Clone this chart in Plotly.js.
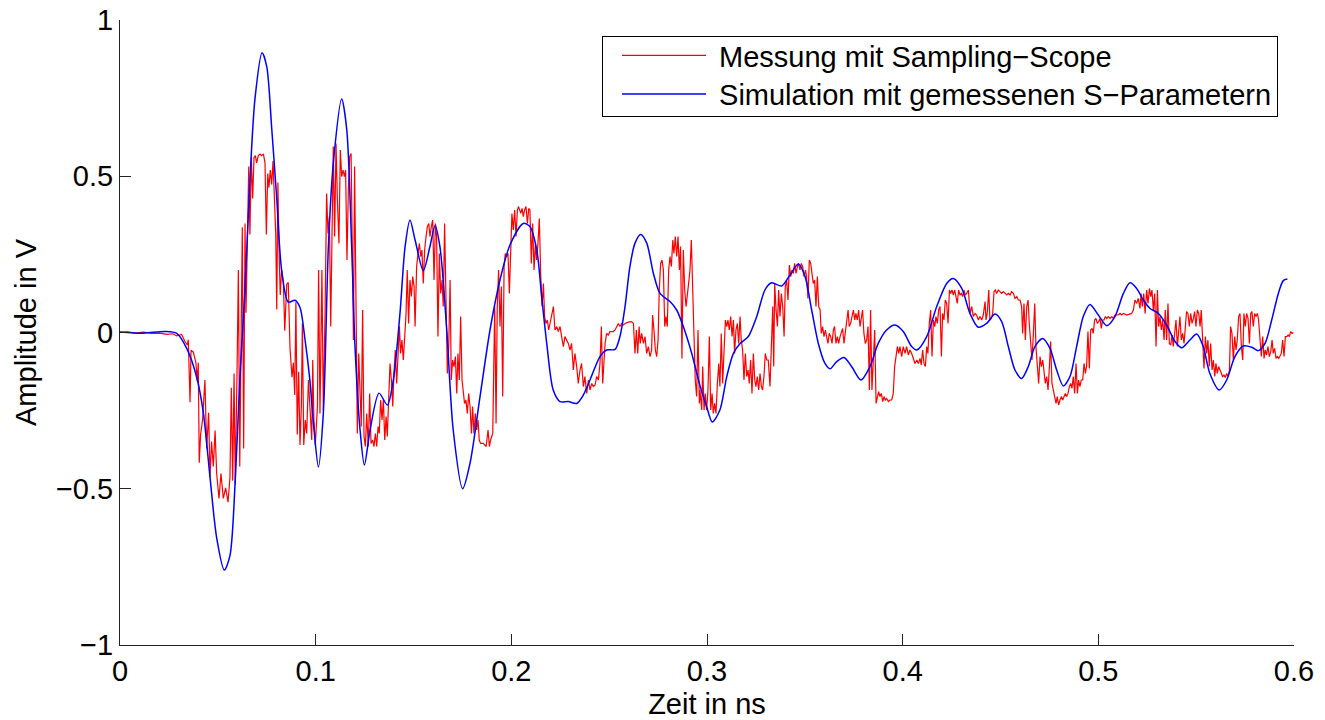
<!DOCTYPE html>
<html>
<head>
<meta charset="utf-8">
<script src="https://cdn.plot.ly/plotly-3.0.1.min.js"></script>
<style>
html,body{margin:0;padding:0;background:#fff;}
#chart{width:1325px;height:720px;}
</style>
</head>
<body>
<div id="chart"></div>
<script>
// Time axis in ns, amplitude in V
const xTicks = [0, 0.1, 0.2, 0.3, 0.4, 0.5, 0.6];
const yTicks = [-1, -0.5, 0, 0.5, 1];
const seriesNames = ['Messung mit Sampling\u2212Scope', 'Simulation mit gemessenen S\u2212Parametern'];

// Measurement (sampling scope) [t, V]
const messung = [
[0,0],[0.004,0.002],[0.008,-0.002],[0.012,0.001],[0.016,-0.003],[0.02,-0.002],[0.024,-0.006],[0.027,-0.004],[0.029,-0.011],[0.0315,-0.006],
[0.0332,-0.029],[0.0344,-0.04],[0.0349,-0.023],[0.0358,-0.223],[0.0363,-0.057],[0.0375,-0.063],[0.0388,-0.097],[0.0395,-0.154],[0.04,-0.097],[0.0405,-0.417],
[0.0412,-0.326],[0.0422,-0.28],[0.0434,-0.152],[0.0443,-0.371],[0.0453,-0.257],[0.046,-0.463],[0.0468,-0.349],[0.0477,-0.429],[0.0486,-0.314],[0.0494,-0.451],
[0.0506,-0.531],[0.0516,-0.451],[0.0528,-0.531],[0.054,-0.497],[0.0552,-0.543],[0.0562,-0.463],[0.0569,-0.177],[0.0576,-0.474],[0.0583,-0.131],[0.0589,-0.486],
[0.0598,-0.131],[0.0605,0.2],[0.0612,-0.429],[0.0618,0.063],[0.0625,0.337],[0.0632,-0.371],[0.0639,0.349],[0.0644,0.063],[0.0651,0.349],[0.0658,0.531],
[0.0664,0.314],[0.0671,0.56],[0.0678,0.429],[0.0685,0.56],[0.0692,0.566],[0.0698,0.543],[0.0707,0.566],[0.0716,0.571],[0.0724,0.566],[0.0733,0.571],
[0.0741,0.543],[0.0748,0.314],[0.0755,0.509],[0.0761,0.463],[0.0768,0.52],[0.0775,0.474],[0.0782,0.549],[0.0789,0.406],[0.0796,0.314],[0.0801,0.074],
[0.0807,0.48],[0.0813,0.257],[0.0819,0.12],[0.0826,0.2],[0.0835,0.16],[0.0842,0.006],[0.0852,0.154],[0.086,0.16],[0.0869,-0.051],[0.0879,-0.143],
[0.0886,-0.097],[0.0893,-0.2],[0.0899,0.097],[0.0906,-0.326],[0.0913,-0.126],[0.092,-0.36],[0.0927,-0.234],[0.0932,0.029],[0.0939,-0.36],[0.0947,-0.28],
[0.0954,-0.323],[0.0963,-0.152],[0.0971,-0.259],[0.098,-0.344],[0.0985,-0.088],[0.0991,-0.28],[0.0998,-0.36],[0.1009,-0.237],[0.1015,0.2],[0.1022,-0.259],
[0.1032,0.2],[0.1039,-0.248],[0.1048,0.061],[0.1056,0.445],[0.1063,0.317],[0.107,0.371],[0.1077,0.019],[0.1083,0.381],[0.109,0.595],[0.1097,0.307],
[0.1104,0.605],[0.1111,0.424],[0.1119,0.285],[0.1126,0.584],[0.1133,0.499],[0.114,0.52],[0.1147,0.499],[0.1153,0.52],[0.116,0.232],[0.1167,0.456],
[0.1174,0.563],[0.1181,0.573],[0.1187,0.275],[0.1193,-0.024],[0.1199,0.531],[0.1206,0.168],[0.1213,-0.323],[0.122,-0.067],[0.1227,-0.205],[0.1233,-0.301],
[0.124,0.072],[0.1247,-0.333],[0.1254,-0.365],[0.1261,-0.259],[0.1269,-0.365],[0.1276,-0.195],[0.1283,-0.355],[0.1291,-0.344],[0.1298,-0.365],[0.1305,-0.323],
[0.1312,-0.365],[0.1319,-0.301],[0.1325,-0.323],[0.1332,-0.216],[0.1339,-0.28],[0.1346,-0.216],[0.1353,-0.344],[0.136,-0.269],[0.1366,-0.333],[0.1373,-0.173],
[0.138,-0.099],[0.1387,-0.152],[0.1394,-0.237],[0.14,-0.131],[0.1407,-0.056],[0.1414,-0.163],[0.1421,-0.077],[0.1428,0.019],[0.1434,-0.067],[0.1441,-0.024],
[0.1448,-0.088],[0.1455,-0.003],[0.1462,0.061],[0.1468,0.2],[0.1475,0.029],[0.1482,0.168],[0.1489,0.115],[0.1496,0.179],[0.1503,0.147],[0.1508,0.019],
[0.1516,0.211],[0.1523,0.253],[0.153,0.285],[0.1537,0.243],[0.1543,0.264],[0.155,0.157],[0.1557,0.264],[0.1564,0.307],[0.1571,0.339],[0.1578,0.349],
[0.1584,0.307],[0.1591,0.339],[0.1598,0.36],[0.1605,0.168],[0.1612,0.349],[0.1618,0.307],[0.1625,-0.013],[0.1632,0.253],[0.1639,0.125],[0.1646,0.168],
[0.1652,0.083],[0.1659,0.349],[0.1666,0.125],[0.1673,-0.131],[0.168,-0.045],[0.1687,0.168],[0.1693,-0.152],[0.17,-0.088],[0.1707,-0.109],[0.1714,-0.077],
[0.1721,-0.195],[0.1727,-0.067],[0.1734,-0.152],[0.1741,0.051],[0.1748,-0.152],[0.1755,-0.205],[0.1761,-0.227],[0.1768,-0.216],[0.1775,-0.259],[0.1782,-0.195],
[0.1789,-0.237],[0.1796,-0.323],[0.1802,-0.237],[0.1809,-0.323],[0.1816,-0.259],[0.1823,-0.312],[0.183,-0.28],[0.1836,-0.344],[0.1843,-0.355],[0.1857,-0.355],
[0.1871,-0.365],[0.1881,-0.312],[0.1888,-0.365],[0.1894,-0.344],[0.1905,-0.323],[0.1915,0.083],[0.1922,-0.291],[0.1928,0.083],[0.1935,0.2],[0.1942,0.019],
[0.1949,0.147],[0.1956,-0.205],[0.1963,0.211],[0.1969,0.253],[0.1976,0.243],[0.1983,0.253],[0.199,0.125],[0.1997,0.264],[0.2003,0.381],[0.201,0.328],
[0.2017,0.392],[0.2024,0.307],[0.2031,0.392],[0.2037,0.403],[0.2048,0.381],[0.2055,0.397],[0.2061,0.371],[0.2068,0.392],[0.2075,0.403],[0.2082,0.349],
[0.2089,0.397],[0.2095,0.392],[0.2102,0.221],[0.2109,0.349],[0.2116,0.2],[0.2123,0.285],[0.2129,0.232],[0.2136,0.285],[0.2143,0.365],[0.215,0.189],
[0.2157,0.083],[0.2164,0.157],[0.217,0.051],[0.2177,0.029],[0.2184,0.04],[0.2191,0.008],[0.2198,0.029],[0.2206,0.051],[0.2215,0.083],[0.2223,0.008],
[0.2232,0.019],[0.224,0.003],[0.2249,0.019],[0.2257,-0.013],[0.2266,-0.045],[0.2274,-0.013],[0.2283,-0.024],[0.2291,-0.035],[0.23,-0.056],[0.2308,-0.035],
[0.2317,-0.12],[0.2325,-0.067],[0.2334,-0.109],[0.2342,-0.163],[0.2351,-0.12],[0.2359,-0.099],[0.2368,-0.173],[0.2376,-0.141],[0.2385,-0.195],[0.2394,-0.152],
[0.2402,-0.184],[0.2411,-0.163],[0.2419,-0.173],[0.2428,-0.168],[0.2436,-0.141],[0.2445,-0.152],[0.2453,-0.099],[0.246,0.019],[0.2467,-0.163],[0.2474,-0.056],
[0.2479,-0.035],[0.2487,-0.003],[0.2496,-0.008],[0.2504,0.003],[0.2521,0.003],[0.253,0.008],[0.2538,0.019],[0.2547,0.029],[0.2555,0.019],[0.2564,0.029],
[0.2572,0.024],[0.2581,0.029],[0.2598,0.033],[0.2615,0.035],[0.2624,0.029],[0.2632,-0.067],[0.2639,0.008],[0.2646,-0.067],[0.2653,0.019],[0.2659,-0.035],
[0.2666,-0.003],[0.2675,-0.035],[0.2683,-0.013],[0.2692,-0.067],[0.27,-0.045],[0.2709,-0.077],[0.2717,-0.056],[0.2722,0.056],[0.2729,0.008],[0.2736,-0.056],
[0.2743,-0.077],[0.275,-0.024],[0.2756,0.136],[0.2763,0.221],[0.277,0.232],[0.2777,0.2],[0.2784,0.019],[0.279,0.051],[0.2797,0.019],[0.2804,0.2],
[0.2811,0.243],[0.2818,0.211],[0.2825,0.296],[0.2831,0.253],[0.2838,0.307],[0.2845,0.243],[0.2852,0.307],[0.2859,0.2],[0.2865,0.275],[0.2872,-0.083],
[0.2879,0.264],[0.2886,0.136],[0.2893,0.083],[0.29,0.115],[0.2906,0.157],[0.2913,0.2],[0.292,0.296],[0.2927,0.136],[0.2934,0.008],[0.294,-0.152],
[0.2947,-0.205],[0.2954,0.008],[0.2961,-0.227],[0.2964,-0.184],[0.2973,-0.248],[0.2978,-0.109],[0.2985,-0.248],[0.2991,-0.195],[0.2998,-0.248],[0.3005,-0.184],
[0.3012,-0.013],[0.3019,-0.248],[0.3026,-0.195],[0.3032,-0.259],[0.3039,-0.227],[0.3046,-0.259],[0.3053,-0.163],[0.306,-0.099],[0.3066,-0.173],[0.3073,-0.003],
[0.308,-0.163],[0.3087,-0.056],[0.3094,0.04],[0.3101,0.019],[0.3107,0.04],[0.3114,0.008],[0.3121,0.051],[0.3128,-0.013],[0.3135,0.04],[0.3141,-0.067],
[0.3148,0.008],[0.3155,0.029],[0.3162,-0.035],[0.3169,0.051],[0.3175,-0.024],[0.3182,-0.056],[0.3189,-0.152],[0.3196,-0.067],[0.3203,-0.141],[0.321,-0.12],
[0.3216,-0.163],[0.3223,-0.088],[0.323,-0.195],[0.3237,-0.067],[0.3244,-0.152],[0.325,-0.173],[0.3257,-0.141],[0.3264,-0.184],[0.3271,-0.131],[0.3278,-0.173],
[0.3284,-0.184],[0.3291,-0.141],[0.3298,-0.067],[0.3305,-0.088],[0.3313,-0.088],[0.3322,-0.173],[0.3329,-0.013],[0.3336,0.083],[0.3341,-0.109],[0.3346,0.157],
[0.3353,0.072],[0.336,0.019],[0.3366,0.136],[0.3373,0.051],[0.338,0.125],[0.3387,0.083],[0.3394,-0.013],[0.34,0.147],[0.3407,0.168],[0.3414,0.104],
[0.3421,0.216],[0.3428,0.179],[0.3434,0.2],[0.3441,0.189],[0.3448,0.221],[0.3455,0.189],[0.3462,0.211],[0.3468,0.221],[0.3475,0.2],[0.3482,0.221],
[0.3489,0.211],[0.3496,0.179],[0.3503,0.2],[0.3509,0.179],[0.3516,0.109],[0.3523,0.232],[0.353,0.221],[0.3537,0.179],[0.3543,0.157],[0.355,0.168],
[0.3557,0.083],[0.3564,0.179],[0.3571,0.083],[0.3578,0.072],[0.3584,-0.003],[0.3591,0.019],[0.3598,-0.013],[0.3605,0.008],[0.3612,-0.013],[0.3618,-0.035],
[0.3625,-0.003],[0.3632,-0.013],[0.3639,-0.035],[0.3646,0.008],[0.3652,0.019],[0.3659,-0.035],[0.3666,-0.013],[0.3673,-0.035],[0.368,-0.013],[0.3686,-0.003],
[0.3693,0.013],[0.37,-0.035],[0.3707,0.008],[0.3714,0.04],[0.3721,0.072],[0.3727,0.019],[0.3734,0.029],[0.3741,0.051],[0.3748,0.072],[0.3755,0.04],
[0.3761,0.061],[0.3768,0.04],[0.3775,0.072],[0.3782,0.019],[0.3789,0.051],[0.3795,0.072],[0.3802,-0.003],[0.3809,-0.035],[0.3816,-0.024],[0.3823,0.019],
[0.383,-0.184],[0.3836,0.072],[0.3843,-0.184],[0.385,-0.088],[0.3857,0.008],[0.3864,-0.227],[0.387,-0.205],[0.3877,-0.189],[0.3884,-0.205],[0.3891,-0.195],
[0.3898,-0.221],[0.3905,-0.205],[0.3911,-0.216],[0.3918,-0.211],[0.3927,-0.221],[0.3935,-0.216],[0.3944,-0.216],[0.3952,-0.195],[0.3959,-0.109],[0.3966,-0.077],
[0.3973,-0.045],[0.398,-0.067],[0.3986,-0.045],[0.3995,-0.077],[0.4003,-0.045],[0.4012,-0.067],[0.402,-0.045],[0.4029,-0.072],[0.4037,-0.056],[0.4046,-0.067],
[0.4055,-0.083],[0.4063,-0.099],[0.4072,-0.088],[0.408,-0.099],[0.4089,-0.083],[0.4095,-0.104],[0.4102,-0.056],[0.4109,-0.099],[0.4116,-0.109],[0.4123,-0.045],
[0.4129,-0.067],[0.4136,0.029],[0.4143,0.072],[0.415,-0.077],[0.4157,0.04],[0.4164,0.019],[0.417,0.051],[0.4177,0.029],[0.4184,0.072],[0.4191,0.083],
[0.4198,-0.077],[0.4204,0.061],[0.4211,0.04],[0.4218,0.104],[0.4225,0.093],[0.4232,0.029],[0.4239,0.136],[0.4245,0.125],[0.4252,0.136],[0.4259,0.12],
[0.4266,0.136],[0.4273,0.115],[0.4279,0.093],[0.4286,0.136],[0.4293,0.12],[0.43,0.125],[0.4307,0.115],[0.4313,0.136],[0.432,0.12],[0.4327,0.125],
[0.4336,0.136],[0.4344,0.061],[0.4353,0.083],[0.4361,0.051],[0.437,0.061],[0.4378,0.056],[0.4387,0.04],[0.4395,0.051],[0.4404,0.04],[0.4412,0.056],
[0.4421,0.099],[0.4426,0.04],[0.4433,0.067],[0.444,0.136],[0.4446,0.04],[0.4453,0.045],[0.446,0.061],[0.4467,0.131],[0.4474,0.136],[0.448,0.125],
[0.4489,0.136],[0.4497,0.131],[0.4506,0.125],[0.4515,0.131],[0.4523,0.125],[0.4532,0.12],[0.454,0.125],[0.4549,0.12],[0.4557,0.131],[0.4566,0.125],
[0.4574,0.109],[0.4583,0.115],[0.4591,0.104],[0.46,0.104],[0.4608,0.083],[0.4613,-0.003],[0.462,0.093],[0.4627,-0.024],[0.4634,0.083],[0.4641,0.104],
[0.4647,0.029],[0.4654,-0.024],[0.4661,-0.088],[0.4668,-0.003],[0.4675,0.093],[0.4681,-0.045],[0.4688,-0.12],[0.4695,-0.163],[0.4702,-0.077],[0.4709,-0.109],
[0.4716,-0.088],[0.4722,-0.131],[0.4729,-0.163],[0.4736,-0.141],[0.4743,-0.184],[0.475,-0.109],[0.4756,-0.029],[0.4763,-0.163],[0.477,-0.184],[0.4777,-0.216],
[0.4784,-0.227],[0.479,-0.205],[0.4797,-0.232],[0.4804,-0.216],[0.4811,-0.205],[0.4818,-0.216],[0.4825,-0.2],[0.4831,-0.195],[0.4838,-0.205],[0.4845,-0.195],
[0.4852,-0.173],[0.4859,-0.163],[0.4865,-0.179],[0.4872,-0.141],[0.4879,-0.195],[0.4886,-0.099],[0.4893,-0.195],[0.4899,-0.152],[0.4906,-0.173],[0.4913,-0.152],
[0.492,-0.152],[0.4927,-0.099],[0.4934,-0.131],[0.494,-0.109],[0.4947,0.003],[0.4954,-0.115],[0.4961,0.008],[0.4968,0.013],[0.4974,-0.003],[0.4981,0.04],
[0.4988,0.045],[0.4995,0.029],[0.5002,0.035],[0.5009,0.045],[0.5015,0.013],[0.5022,0.04],[0.5029,0.04],[0.5036,0.051],[0.5043,0.045],[0.5051,0.051],
[0.506,0.045],[0.5069,0.051],[0.5077,0.045],[0.5085,0.056],[0.5102,0.056],[0.5111,0.061],[0.5119,0.056],[0.5128,0.061],[0.5145,0.056],[0.5162,0.061],
[0.517,0.061],[0.5179,0.072],[0.5187,0.104],[0.5196,0.093],[0.5204,0.109],[0.5213,0.077],[0.5218,0.125],[0.5225,0.083],[0.5232,0.125],[0.5239,0.061],
[0.5247,0.136],[0.5254,0.093],[0.5261,0.141],[0.5268,0.115],[0.5274,0.136],[0.5281,0.072],[0.5288,0.125],[0.5295,-0.045],[0.5302,0.136],[0.5308,0.019],
[0.5315,0.051],[0.5322,0.008],[0.5329,0.04],[0.5336,-0.024],[0.5342,0.072],[0.5349,-0.024],[0.5356,0.093],[0.5363,-0.035],[0.537,-0.04],[0.5377,-0.008],
[0.5383,-0.045],[0.539,-0.003],[0.5397,0.04],[0.5404,-0.045],[0.5411,0.019],[0.5417,0.051],[0.5424,-0.024],[0.5431,-0.003],[0.5438,-0.035],[0.5445,0.019],
[0.5451,0.067],[0.5458,0.061],[0.5465,0.019],[0.5472,0.061],[0.5479,0.029],[0.5486,0.045],[0.5492,0.067],[0.5499,0.019],[0.5506,0.072],[0.5513,0.061],
[0.552,0.019],[0.5526,0.072],[0.5533,-0.035],[0.554,-0.115],[0.5547,-0.013],[0.5554,-0.067],[0.556,-0.024],[0.5567,-0.109],[0.5574,-0.035],[0.5581,-0.12],
[0.5588,-0.088],[0.5595,-0.141],[0.5601,-0.099],[0.5608,-0.131],[0.5615,-0.109],[0.5622,-0.12],[0.5629,-0.136],[0.5635,-0.141],[0.5642,-0.136],[0.5649,-0.144],
[0.5656,-0.131],[0.5663,-0.141],[0.567,-0.12],[0.5676,0.019],[0.5683,-0.003],[0.569,-0.088],[0.5697,-0.013],[0.5704,-0.056],[0.571,-0.024],[0.5717,0.051],
[0.5724,0.061],[0.5731,-0.045],[0.5738,-0.088],[0.5744,0.061],[0.5751,0.019],[0.5758,0.061],[0.5765,0.045],[0.5772,-0.035],[0.5779,0.061],[0.5785,0.067],
[0.5792,0.019],[0.5799,0.061],[0.5806,0.051],[0.5813,0.061],[0.5819,0.04],[0.5826,-0.024],[0.5833,-0.077],[0.584,-0.013],[0.5847,-0.083],[0.5853,-0.056],
[0.586,-0.072],[0.5867,-0.045],[0.5874,-0.077],[0.5881,-0.061],[0.5888,-0.024],[0.5894,-0.067],[0.5901,-0.051],[0.5908,-0.083],[0.5915,-0.077],[0.5922,-0.083],
[0.5928,-0.077],[0.5935,-0.067],[0.5942,-0.024],[0.5949,-0.077],[0.5956,-0.013],[0.5963,-0.013],[0.597,-0.008],[0.5976,-0.013],[0.5983,0.003],[0.599,-0.003],
[0.5997,0.0]
];

// Simulation with measured S-parameters [t, V]
const simulation = [
[0,0.002],[0.012,-0.002],[0.023,0.003],[0.029,-0.003],[0.0341,-0.051],[0.0392,-0.143],[0.0426,-0.257],[0.046,-0.463],[0.0494,-0.657],[0.0533,-0.76],
[0.0562,-0.714],[0.0588,-0.486],[0.0613,-0.143],[0.0639,0.143],[0.0664,0.486],[0.069,0.749],[0.0726,0.895],[0.075,0.851],[0.0775,0.657],[0.0801,0.429],
[0.0826,0.2],[0.086,0.097],[0.0894,0.103],[0.092,0.08],[0.0945,-0.02],[0.097,-0.15],[0.099,-0.3],[0.1014,-0.43],[0.1039,-0.26],[0.1065,0.275],
[0.109,0.54],[0.1133,0.747],[0.1159,0.648],[0.1184,0.275],[0.1201,-0.045],[0.1227,-0.312],[0.1249,-0.424],[0.1278,-0.312],[0.1324,-0.194],[0.1366,-0.232],
[0.1397,-0.152],[0.1431,0.062],[0.1457,0.275],[0.1482,0.36],[0.1508,0.296],[0.155,0.198],[0.1584,0.275],[0.161,0.342],[0.1635,0.275],[0.167,0.008],
[0.1703,-0.312],[0.1751,-0.5],[0.1789,-0.418],[0.184,-0.205],[0.1891,0.008],[0.1942,0.168],[0.1993,0.28],[0.2061,0.349],[0.2095,0.339],[0.213,0.264],
[0.2155,0.115],[0.2181,-0.035],[0.2214,-0.184],[0.2249,-0.221],[0.2291,-0.221],[0.2334,-0.227],[0.2368,-0.2],[0.2402,-0.152],[0.2453,-0.077],[0.2487,-0.056],
[0.253,-0.054],[0.2555,-0.013],[0.2581,0.083],[0.2606,0.211],[0.2632,0.286],[0.2661,0.314],[0.2692,0.286],[0.2726,0.189],[0.276,0.125],[0.2811,0.099],
[0.2845,0.072],[0.2879,0.019],[0.2922,-0.067],[0.2964,-0.17],[0.2998,-0.237],[0.3027,-0.286],[0.3066,-0.248],[0.3101,-0.141],[0.3135,-0.067],[0.3169,-0.035],
[0.3211,-0.013],[0.3254,0.051],[0.3296,0.136],[0.333,0.159],[0.3382,0.149],[0.3424,0.184],[0.3467,0.219],[0.3501,0.179],[0.3535,0.072],[0.3569,-0.035],
[0.3603,-0.099],[0.3629,-0.116],[0.3663,-0.093],[0.37,-0.08],[0.3739,-0.109],[0.3787,-0.152],[0.3833,-0.109],[0.3875,-0.035],[0.3918,0.008],[0.3961,0.024],
[0.4003,0.003],[0.4046,-0.045],[0.4072,-0.056],[0.4123,-0.013],[0.4174,0.083],[0.4225,0.157],[0.4259,0.173],[0.4302,0.141],[0.4344,0.061],[0.4386,0.017],
[0.4429,0.029],[0.4472,0.059],[0.4506,0.035],[0.454,-0.045],[0.4574,-0.12],[0.4608,-0.147],[0.4642,-0.109],[0.4676,-0.045],[0.4716,-0.019],[0.4753,-0.051],
[0.4787,-0.12],[0.4821,-0.171],[0.4855,-0.141],[0.4889,-0.045],[0.4923,0.051],[0.4957,0.09],[0.5,0.056],[0.5043,0.022],[0.5085,0.051],[0.5128,0.125],
[0.5162,0.159],[0.5196,0.141],[0.523,0.104],[0.5264,0.077],[0.5307,0.061],[0.5349,0.024],[0.5392,-0.029],[0.5426,-0.049],[0.5468,-0.024],[0.5503,-0.005],
[0.5536,-0.045],[0.557,-0.131],[0.5618,-0.184],[0.5656,-0.152],[0.5698,-0.077],[0.5741,-0.043],[0.5784,-0.047],[0.5818,-0.058],[0.5852,-0.035],[0.5886,0.04],
[0.592,0.125],[0.5945,0.166],[0.5966,0.171]
];

const traces = [
  {
    x: messung.map(p => p[0]), y: messung.map(p => p[1]),
    type: 'scatter', mode: 'lines', name: seriesNames[0],
    line: {color: '#ff0000', width: 1.2}
  },
  {
    x: simulation.map(p => p[0]), y: simulation.map(p => p[1]),
    type: 'scatter', mode: 'lines', name: seriesNames[1],
    line: {color: '#0000ff', width: 1.5, shape: 'spline', smoothing: 0.8}
  }
];

const axisFont = {family: 'Liberation Sans, Arial, sans-serif', size: 29, color: '#000'};

const layout = {
  width: 1325, height: 720,
  margin: {l: 120, r: 31, t: 20, b: 75, pad: 0},
  paper_bgcolor: '#fff', plot_bgcolor: '#fff',
  font: axisFont,
  showlegend: true,
  legend: {
    x: 0.9864, xanchor: 'right', y: 0.9744, yanchor: 'top',
    bgcolor: '#fff', bordercolor: '#000', borderwidth: 1,
    font: axisFont, itemwidth: 106, tracegroupgap: 0
  },
  xaxis: {
    range: [0, 0.6], tickvals: xTicks, ticks: 'inside', ticklen: 11, tickwidth: 1, tickcolor: '#222',
    showline: true, linecolor: '#222', linewidth: 1, showgrid: false, zeroline: false,
    tickfont: axisFont, automargin: false,
    title: {text: 'Zeit in ns', font: axisFont, standoff: 8}
  },
  yaxis: {
    range: [-1, 1], tickvals: yTicks, ticks: 'inside', ticklen: 11, tickwidth: 1, tickcolor: '#222',
    showline: true, linecolor: '#222', linewidth: 1, showgrid: false, zeroline: false,
    tickfont: axisFont, automargin: false,
    title: {text: 'Amplitude in V', font: axisFont, standoff: 10}
  }
};

Plotly.newPlot('chart', traces, layout, {staticPlot: true}).then(function (gd) {
  // MATLAB-style legend samples: line starts inset and is ~84px long
  gd.querySelectorAll('.legend .legendlines path').forEach(function (p) {
    p.setAttribute('d', 'M19,0h84');
  });
  // tighten legend box: two rows 38px apart, box 80px high
  const bg = gd.querySelector('.legend rect.bg');
  if (bg) bg.setAttribute('height', '80');
  const shifts = [-7, -9];
  gd.querySelectorAll('.legend g.traces').forEach(function (g, i) {
    const m = /translate\(\s*([-\d.]+)[ ,]+([-\d.]+)\s*\)/.exec(g.getAttribute('transform') || '');
    if (m) g.setAttribute('transform', 'translate(' + m[1] + ',' + (parseFloat(m[2]) + (shifts[i] || 0)) + ')');
  });
});
</script>
</body>
</html>
